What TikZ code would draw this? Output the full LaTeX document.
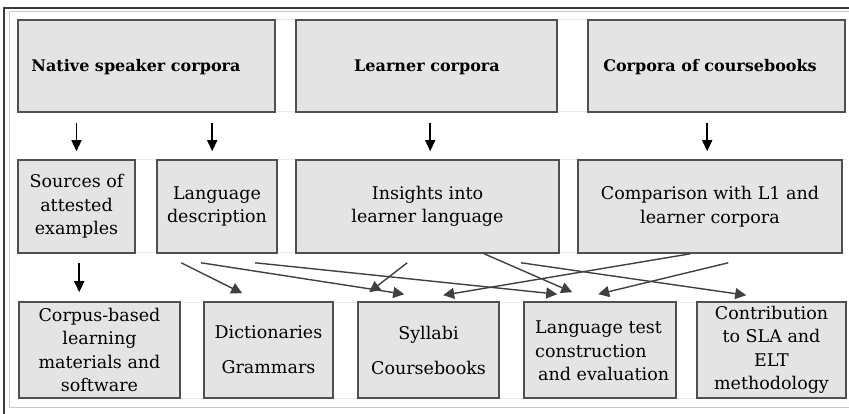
\documentclass[tikz,border=0pt]{standalone}
\usepackage{fontspec}
\setmainfont{DejaVu Serif}
\usetikzlibrary{arrows.meta,calc}
\definecolor{boxfill}{HTML}{E4E4E4}
\definecolor{boxline}{HTML}{505050}
\definecolor{arrc}{HTML}{404040}
\definecolor{framedark}{HTML}{3A3A3A}
\definecolor{framelight}{HTML}{C8C8C8}
\definecolor{gridc}{HTML}{EAEAEA}
\begin{document}
\begin{tikzpicture}[x=1pt,y=-1pt,
  box/.style={draw=boxline,fill=boxfill,line width=1.6pt,inner sep=0pt,align=center,
    font=\fontsize{17.5}{23.5}\selectfont},
  titletext/.style={inner sep=0pt,font=\fontsize{16}{19}\selectfont\bfseries},
  bodytext/.style={inner sep=0pt,font=\fontsize{17.5}{23.5}\selectfont},
  varrow/.style={draw=black,line width=1.5pt,-{Triangle[length=11pt,width=10pt]}},
  xarrow/.style={draw=arrc,line width=1.4pt,-{Triangle[length=11pt,width=11pt]}}]
\useasboundingbox (0,0) rectangle (849,414);
\fill[white] (0,0) rectangle (849,414);
% frame
\draw[framedark,line width=1.5pt] (4,414) -- (4,8) -- (849,8);
\draw[framelight,line width=1pt] (849,12) -- (9,12) -- (9,407) -- (849,407);
% faint row grid lines
\foreach \yy in {20,112,160,253,302,398}
  \draw[gridc,line width=1pt] (18,\yy) -- (846,\yy);
% top row
\node[box,minimum width=257pt,minimum height=92pt] (nsc) at (146.5,66) {};
\node[box,minimum width=261pt,minimum height=92pt] (lc) at (426.5,66) {};
\node[box,minimum width=257pt,minimum height=92pt] (cc) at (716.5,66) {};
\node[titletext] (nsct) at (136,67) {Native speaker corpora};
\node[titletext] (lct) at (427,67) {Learner corpora};
\node[titletext] (cct) at (710,67) {Corpora of coursebooks};
% middle row
\node[box,minimum width=117pt,minimum height=93pt] (src) at (76.5,206.5) {Sources of\\attested\\examples};
\node[box,minimum width=120pt,minimum height=93pt] (ld) at (217,206.5) {Language\\description};
\node[box,minimum width=263pt,minimum height=93pt] (ins) at (427.5,206.5) {Insights into\\learner language};
\node[box,minimum width=264pt,minimum height=93pt] (cmp) at (710,206.5) {Comparison with L1 and\\learner corpora};
% bottom row
\node[box,minimum width=161pt,minimum height=96pt] (cbl) at (99.5,350) {Corpus-based\\learning\\materials and\\software};
\node[box,minimum width=129pt,minimum height=96pt] (dic) at (268.5,350) {Dictionaries\\[11.5pt]Grammars};
\node[box,minimum width=141pt,minimum height=96pt] (syl) at (428.5,350) {Syllabi\\[11.5pt]Coursebooks};
\node[box,minimum width=152pt,minimum height=96pt] (lt) at (600,350) {};
\node[bodytext,align=left,anchor=west] (ltt) at (535,351) {Language test\\construction\\\hspace*{3pt}and evaluation};
\node[box,minimum width=149pt,minimum height=96pt] (con) at (771.5,350) {Contribution\\to SLA and\\ELT\\methodology};
% vertical arrows
\draw[varrow] ([yshift=-10pt]nsc.south -| src.north) -- ([yshift=8pt]src.north);
\draw[varrow] ($(nsc.south west)+(195,10)$) -- ($(ld.north west)+(56,-8)$);
\draw[varrow] ($(lc.south west)+(135,10)$) -- ($(ins.north west)+(135,-8)$);
\draw[varrow] ($(cc.south west)+(120,10)$) -- ($(cmp.north west)+(130,-8)$);
\draw[varrow] ($(src.south west)+(62,9)$) -- ($(cbl.north west)+(61,-9)$);
% crossing arrows
\draw[xarrow] ($(ld.south west)+(25,9)$) -- ($(dic.north west)+(39,-8)$);
\draw[xarrow] ($(ld.south west)+(45,9)$) -- ($(syl.north west)+(47,-7)$);
\draw[xarrow] ($(ld.south west)+(99,9)$) -- ($(lt.north west)+(34,-7)$);
\draw[xarrow] ($(ins.south west)+(112,9)$) -- ($(syl.north west)+(12,-9)$);
\draw[xarrow] ($(cmp.south west)+(113,0)$) -- ($(syl.north west)+(86,-6)$);
\draw[xarrow] ($(ins.south west)+(189,0)$) -- ($(lt.north west)+(49,-9)$);
\draw[xarrow] ($(ins.south west)+(226,9)$) -- ($(con.north west)+(50,-6)$);
\draw[xarrow] ($(cmp.south west)+(151,9)$) -- ($(lt.north west)+(75,-7)$);
\end{tikzpicture}
\end{document}
